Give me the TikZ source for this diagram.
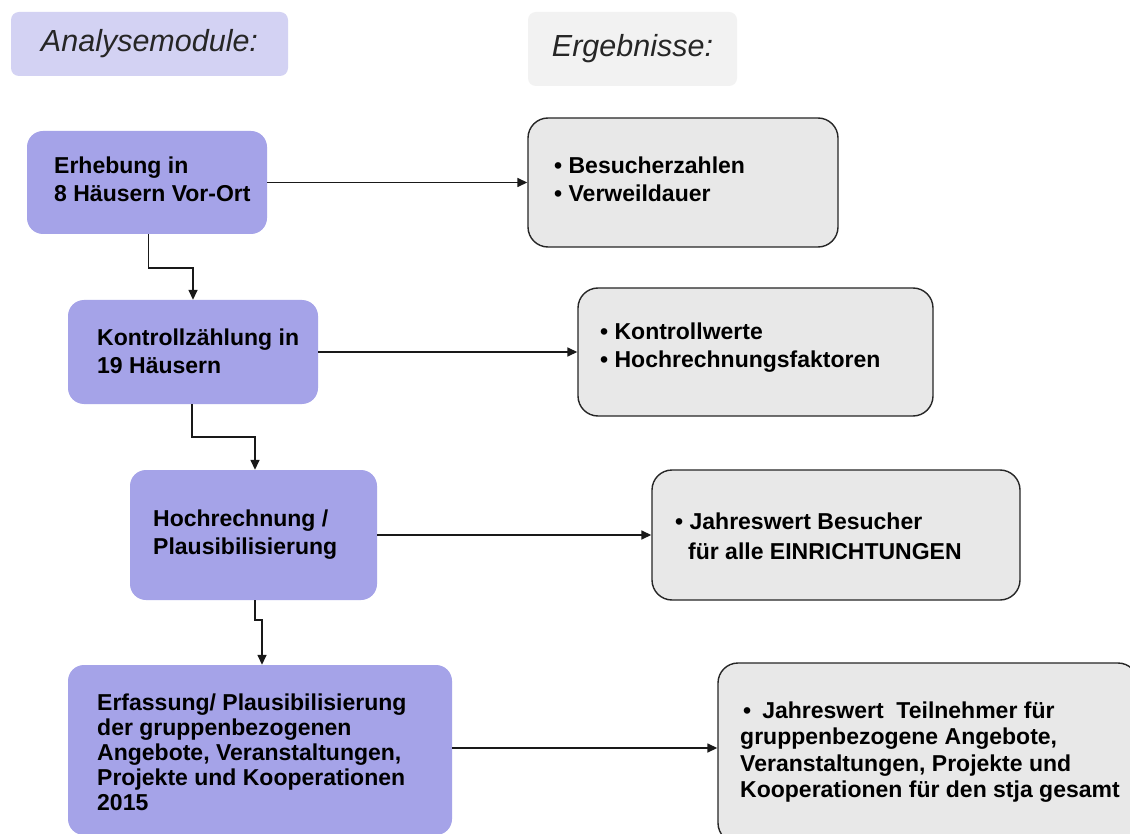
\documentclass[tikz,border=0pt]{standalone}
\usepackage{fontspec}
\setmainfont{Liberation Sans}
\usetikzlibrary{arrows.meta}
\definecolor{hdrpurple}{HTML}{D3D2F3}
\definecolor{hdrgrey}{HTML}{F2F2F2}
\definecolor{modpurple}{HTML}{A5A3E8}
\definecolor{resgrey}{HTML}{E8E8E8}
\begin{document}
\begin{tikzpicture}[x=1pt,y=-1pt,
  hdr/.style={rounded corners=8pt, inner sep=0pt, font=\fontsize{30.5}{34}\selectfont\itshape, text=black!85},
  mod/.style={fill=modpurple, rounded corners=16pt, inner sep=0pt},
  res/.style={fill=resgrey, draw=black!85, line width=1.4pt, rounded corners=20pt, inner sep=0pt},
  txt/.style={inner sep=0pt, align=left, font=\fontsize{23}{28}\selectfont\bfseries, text=black},
  arr/.style={line width=1.5pt, draw=black!90, -{Triangle[length=10pt,width=9pt]}}]
\path[use as bounding box, fill=white] (0,0) rectangle (1130,834);
\clip (0,0) rectangle (1130,834);
% headers
\node[hdr, fill=hdrpurple, minimum width=277pt, minimum height=64pt] (h1) at (149.5,44) {Analysemodule:};
\node[hdr, fill=hdrgrey, minimum width=209pt, minimum height=74pt] (h2) at (632.5,49) {Ergebnisse:};
% module boxes
\node[mod, minimum width=240pt, minimum height=103pt] (m1) at (147,182.5) {};
\node[mod, minimum width=250pt, minimum height=104pt] (m2) at (193,352) {};
\node[mod, minimum width=247pt, minimum height=130pt] (m3) at (253.5,535) {};
\node[mod, minimum width=384pt, minimum height=170pt] (m4) at (260,750) {};
\node[txt, anchor=west] (m1t) at (54,179) {Erhebung in\\8 Häusern Vor-Ort};
\node[txt, anchor=west] (m2t) at (97,351) {Kontrollzählung in\\19 Häusern};
\node[txt, anchor=west] (m3t) at (153,535) {Hochrechnung /\\Plausibilisierung};
\node[txt, anchor=west, font=\fontsize{23}{25}\selectfont\bfseries] (m4t) at (97,752) {Erfassung/ Plausibilisierung\\der gruppenbezogenen\\Angebote, Veranstaltungen,\\Projekte und Kooperationen\\2015};
% result boxes
\node[res, minimum width=310pt, minimum height=129pt] (g1) at (683,182.5) {};
\node[res, minimum width=355pt, minimum height=128pt] (g2) at (755.5,352) {};
\node[res, minimum width=368pt, minimum height=130pt] (g3) at (836,535) {};
\node[res, minimum width=420pt, minimum height=180pt] (g4) at (928,753) {};
\node[txt, anchor=west] (g1t) at (554,179) {• Besucherzahlen\\• Verweildauer};
\node[txt, anchor=west] (g2t) at (600,348) {• Kontrollwerte\\• Hochrechnungsfaktoren};
\node[txt, anchor=west, font=\fontsize{23}{30}\selectfont\bfseries] (g3t) at (675,536) {• Jahreswert Besucher\\\hspace{13pt}für alle EINRICHTUNGEN};
\node[txt, anchor=west, font=\fontsize{23}{26.5}\selectfont\bfseries] (g4t) at (740,752) {\hspace{3pt}•\hspace{11pt}Jahreswert\ \ Teilnehmer für\\gruppenbezogene Angebote,\\Veranstaltungen, Projekte und\\Kooperationen für den stja gesamt};
% horizontal arrows
\draw[arr] (m1.east) -- (m1.east -| g1.west);
\draw[arr] (m2.east) -- (m2.east -| g2.west);
\draw[arr] (m3.east) -- (m3.east -| g3.west);
\draw[arr] ([yshift=2pt]m4.east) -- ([yshift=2pt]m4.east -| g4.west);
% elbow connectors
\draw[arr] ([xshift=1.5pt]m1.south) -- ++(0,34) -| (m2.north);
\draw[arr] ([xshift=-1pt]m2.south) -- ++(0,33) -| ([xshift=1.5pt]m3.north);
\draw[arr] ([xshift=1.5pt]m3.south) -- ++(0,20) -| ([xshift=2pt]m4.north);
\end{tikzpicture}
\end{document}
